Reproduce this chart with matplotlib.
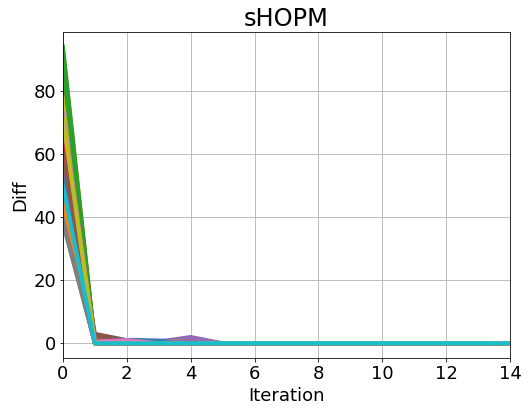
import matplotlib
matplotlib.use("Agg")
import matplotlib.pyplot as plt

iterations = list(range(15))

# Diff per run, one row per run (iterations 0..14)
diffs = [
    [60, 0, 1.0, 0.8, 0.5, 0, 0, 0, 0, 0, 0, 0, 0, 0, 0],
    [93, 0, 0, 0, 0, 0, 0, 0, 0, 0, 0, 0, 0, 0, 0],
    [94, 0, 0, 0, 0, 0, 0, 0, 0, 0, 0, 0, 0, 0, 0],
    [86, 0.5, 0, 0, 0, 0, 0, 0, 0, 0, 0, 0, 0, 0, 0],
    [66, 0.8, 0.5, 0.5, 2.0, 0, 0, 0, 0, 0, 0, 0, 0, 0, 0],
    [64, 3.0, 1.0, 0.5, 0.3, 0, 0, 0, 0, 0, 0, 0, 0, 0, 0],
    [72, 1.0, 0.8, 0.3, 0, 0, 0, 0, 0, 0, 0, 0, 0, 0, 0],
    [40, 0, 0, 0, 0, 0, 0, 0, 0, 0, 0, 0, 0, 0, 0],
    [80, 0, 0, 0, 0.5, 0, 0, 0, 0, 0, 0, 0, 0, 0, 0],
    [55, 0, 0, 0, 0, 0, 0, 0, 0, 0, 0, 0, 0, 0, 0],
    [50, 1.5, 1.0, 0.8, 0.8, 0, 0, 0, 0, 0, 0, 0, 0, 0, 0],
    [47, 0, 0, 0, 0, 0, 0, 0, 0, 0, 0, 0, 0, 0, 0],
    [90, 0, 0, 0, 0, 0, 0, 0, 0, 0, 0, 0, 0, 0, 0],
    [70, 0, 0, 0, 0, 0, 0, 0, 0, 0, 0, 0, 0, 0, 0],
    [58, 0.5, 0.5, 0.3, 1.2, 0, 0, 0, 0, 0, 0, 0, 0, 0, 0],
    [62, 2.0, 0.5, 0, 0, 0, 0, 0, 0, 0, 0, 0, 0, 0, 0],
    [68, 0.8, 0.6, 0.5, 0.3, 0, 0, 0, 0, 0, 0, 0, 0, 0, 0],
    [38, 0, 0, 0, 0, 0, 0, 0, 0, 0, 0, 0, 0, 0, 0],
    [76, 0.3, 0.3, 0.3, 0.8, 0, 0, 0, 0, 0, 0, 0, 0, 0, 0],
    [52, 0, 0, 0, 0, 0, 0, 0, 0, 0, 0, 0, 0, 0, 0],
    [44, 0.5, 0.8, 0.5, 0, 0, 0, 0, 0, 0, 0, 0, 0, 0, 0],
    [56, 0, 0, 0, 0, 0, 0, 0, 0, 0, 0, 0, 0, 0, 0],
    [48, 0, 0, 0, 0, 0, 0, 0, 0, 0, 0, 0, 0, 0, 0],
    [82, 0, 0, 0, 0, 0, 0, 0, 0, 0, 0, 0, 0, 0, 0],
    [61, 0, 0, 0, 0.8, 0, 0, 0, 0, 0, 0, 0, 0, 0, 0],
    [74, 1.0, 0, 0, 0, 0, 0, 0, 0, 0, 0, 0, 0, 0, 0],
    [70, 0.5, 1.0, 0, 0, 0, 0, 0, 0, 0, 0, 0, 0, 0, 0],
    [42, 0, 0, 0, 0, 0, 0, 0, 0, 0, 0, 0, 0, 0, 0],
    [78, 0, 0, 0, 0, 0, 0, 0, 0, 0, 0, 0, 0, 0, 0],
    [46, 0, 0, 0, 0, 0, 0, 0, 0, 0, 0, 0, 0, 0, 0],
    [54, 0, 0, 0, 0, 0, 0, 0, 0, 0, 0, 0, 0, 0, 0],
    [45, 0, 0, 0, 0, 0, 0, 0, 0, 0, 0, 0, 0, 0, 0],
    [88, 0, 0, 0, 0, 0, 0, 0, 0, 0, 0, 0, 0, 0, 0],
    [66, 0, 0, 0, 0, 0, 0, 0, 0, 0, 0, 0, 0, 0, 0],
    [59, 0, 0, 0, 0, 0, 0, 0, 0, 0, 0, 0, 0, 0, 0],
    [60, 0, 0, 0, 0, 0, 0, 0, 0, 0, 0, 0, 0, 0, 0],
    [73, 0, 0, 0, 0, 0, 0, 0, 0, 0, 0, 0, 0, 0, 0],
    [39, 0, 0, 0, 0, 0, 0, 0, 0, 0, 0, 0, 0, 0, 0],
    [71, 0, 0, 0, 0, 0, 0, 0, 0, 0, 0, 0, 0, 0, 0],
    [50, 0, 0, 0, 0, 0, 0, 0, 0, 0, 0, 0, 0, 0, 0],
]

fig, ax = plt.subplots(figsize=(529 / 72, 414 / 72), dpi=72)
fig.subplots_adjust(left=0.119, right=0.964, top=0.923, bottom=0.135)

for row in diffs:
    ax.plot(iterations, row, linewidth=4)

ax.set_xlim(0, 14)
ax.set_title("sHOPM", fontsize=24)
ax.set_xlabel("Iteration", fontsize=18)
ax.set_ylabel("Diff", fontsize=18)
ax.tick_params(labelsize=18)
ax.grid(True)

fig.savefig("out.png", dpi=72)
